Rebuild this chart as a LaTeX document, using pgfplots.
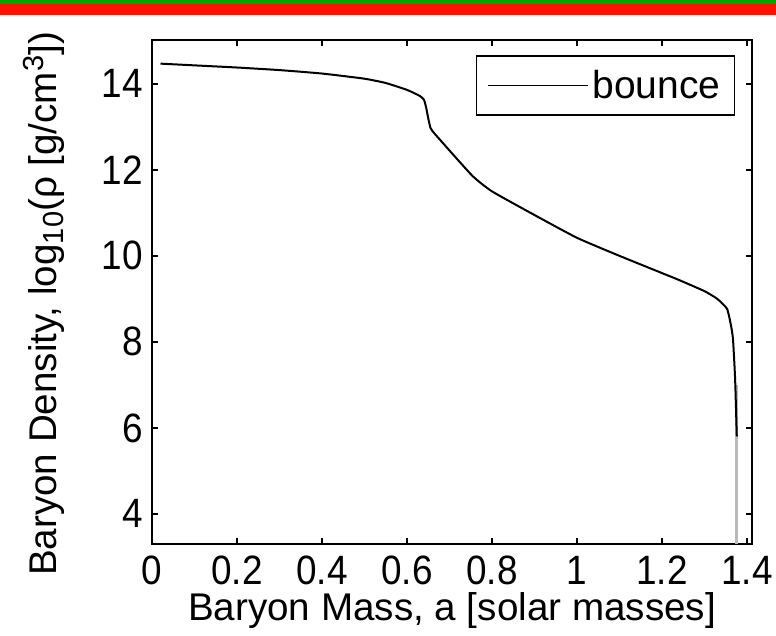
\documentclass[border=0pt]{standalone}
\usepackage{pgfplots}
\pgfplotsset{compat=1.18}
\usepackage{fontspec}
\setmainfont{Liberation Sans}
\newfontfamily\tickfont[FakeStretch=0.9]{Liberation Sans}
\begin{document}
\begin{tikzpicture}
\useasboundingbox (-76pt,-46pt) rectangle (312pt,272pt);
\fill[white] (-76pt,-46pt) rectangle (312pt,272pt);
\fill[red!85!orange] (-76pt,264.5pt) rectangle (312pt,270pt);
\fill[green!65!black] (-76pt,270pt) rectangle (312pt,272pt);
\begin{axis}[
  at={(0pt,0pt)}, anchor=south west,
  scale only axis, width=300pt, height=252pt,
  xmin=0, xmax=1.4118, ymin=3.3, ymax=15.02,
  xtick={0,0.2,0.4,0.6,0.8,1,1.2,1.4},
  xticklabels={0,0.2,0.4,0.6,0.8,1,1.2,1.4},
  ytick={4,6,8,10,12,14},
  tick align=inside, tick pos=both,
  major tick length=3pt,
  axis line style={line width=1pt},
  every tick/.style={black, line width=0.8pt},
  /pgf/number format/assume math mode=true,
  tick label style={font=\tickfont\fontsize{20.5}{24}\selectfont},
  xticklabel style={yshift=-2.5pt},
  yticklabel style={xshift=-1pt},
  xlabel={Baryon Mass, a [solar masses]},
  ylabel={Baryon Density, log\raisebox{-0.35ex}{\fontsize{14.5}{16}\selectfont 10}(ρ [g/cm\raisebox{0.6ex}{\fontsize{14.5}{16}\selectfont 3}])},
  label style={font=\fontsize{19.3}{22}\selectfont},
  xlabel style={yshift=3pt},
  ylabel style={yshift=12pt, xshift=-6pt},
  legend style={at={(0.972,0.970)}, anchor=north east, draw=black, line width=0.8pt,
    font=\fontsize{19.5}{24}\selectfont, inner xsep=5pt, inner ysep=5pt},
  legend cell align=left,
  legend image code/.code={\draw[black, line width=0.9pt] (0pt,0pt) -- (50pt,0pt);},
  clip=true,
]
\addplot[gray!55, line width=1.6pt, forget plot] coordinates {(1.376,7.0) (1.376,3.0)};
\addplot[black, line width=1pt, smooth, tension=0.3] coordinates {
(0.02,14.47) (0.1,14.43) (0.2,14.38) (0.3,14.32) (0.4,14.24) (0.5,14.12)
(0.55,14.02) (0.6,13.86) (0.63,13.72) (0.64,13.63) (0.645,13.45) (0.65,13.2)
(0.655,12.98) (0.66,12.9) (0.7,12.45) (0.755,11.85) (0.8,11.5) (0.9,10.95)
(1.0,10.42) (1.1,10.0) (1.2,9.6) (1.235,9.46) (1.3,9.18) (1.33,9.0)
(1.353,8.77) (1.362,8.4) (1.367,8.07) (1.372,7.15) (1.376,5.8)
};
\addlegendentry{bounce}
\end{axis}
\end{tikzpicture}
\end{document}
